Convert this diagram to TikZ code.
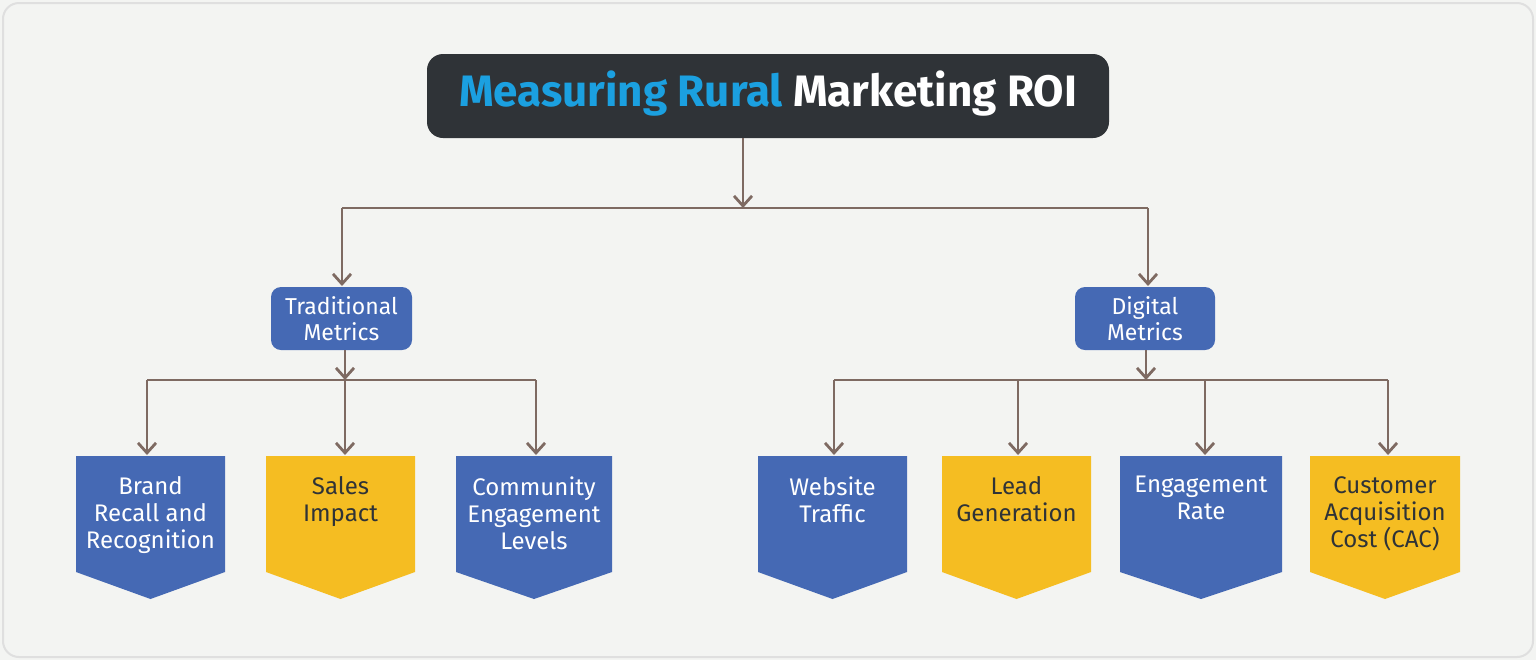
\documentclass[tikz,border=0pt]{standalone}
\usepackage{fontspec}
\setmainfont{Fira Sans}
\usetikzlibrary{arrows.meta}
\definecolor{bg}{HTML}{F3F4F2}
\definecolor{dark}{HTML}{2F3337}
\definecolor{tblue}{HTML}{1BA0E0}
\definecolor{mblue}{HTML}{4569B4}
\definecolor{myel}{HTML}{F5BD22}
\definecolor{conn}{HTML}{7E6A62}
\tikzset{
  conn/.style={draw=conn,line width=1.4pt},
  arr/.style={conn,-{Straight Barb[length=5pt,width=9pt]}},
  cat/.style={fill=mblue,rounded corners=5pt,text=white,align=center,font=\fontsize{11.5}{13}\selectfont,inner sep=0pt},
  lbl/.style={align=center,font=\fontsize{12}{13.5}\selectfont,anchor=north,inner sep=0pt},
}
\begin{document}
\begin{tikzpicture}[x=0.5pt,y=-0.5pt]
\useasboundingbox (0,0) rectangle (1536,660);
\fill[bg] (0,0) rectangle (1536,660);
\draw[gray!25,line width=1pt,rounded corners=8pt] (3,3) rectangle (1533,657);
% title
\fill[dark,rounded corners=8pt] (427,54) rectangle (1109,138);
\node[font=\fontsize{22}{24}\selectfont\bfseries,inner sep=0pt] (title) at (768,94) {\textcolor{tblue}{Measuring Rural} \textcolor{white}{Marketing ROI}};
\coordinate (tb) at (743,138);
\coordinate (split) at (743,208);
% categories
\node[cat,minimum width=70.5pt,minimum height=31.5pt] (trad) at (341.5,318.5) {Traditional\\Metrics};
\node[cat,minimum width=70pt,minimum height=31.5pt] (dig) at (1145,318.5) {Digital\\Metrics};
\coordinate (tl) at (342,208); \coordinate (dl) at (1148,208);
\draw[arr] (tb) -- (split);
\draw[conn] (tl) -- (dl);
\draw[arr] (tl) -- (342,286);
\draw[arr] (dl) -- (1148,286);
% leaves
\newcommand{\leaf}[6]{% name, x1, x2, color, textcolor, text
  \fill[#4] (#2,456) -- (#3,456) -- (#3,572) -- ({(#2+#3)/2},599) -- (#2,572) -- cycle;
  \coordinate (#1) at ({(#2+#3)/2},456);
  \node[lbl,text=#5] (#1t) at ({(#2+#3)/2},476) {#6};
}
\leaf{l1}{76}{225}{mblue}{white}{Brand\\Recall and\\Recognition}
\leaf{l2}{266}{415}{myel}{dark}{Sales\\Impact}
\leaf{l3}{456}{612}{mblue}{white}{Community\\Engagement\\Levels}
\leaf{l4}{758}{907}{mblue}{white}{Website\\Traffic}
\leaf{l5}{942}{1091}{myel}{dark}{Lead\\Generation}
\leaf{l6}{1120}{1282}{mblue}{white}{Engagement\\Rate}
\leaf{l7}{1310}{1460}{myel}{dark}{Customer\\Acquisition\\Cost (CAC)}
% traditional branch
\coordinate (tj) at (345,380);
\draw[arr] (trad.south -| tj) -- (tj);
\draw[conn] (147,380) -- (536,380);
\draw[arr] (147,380) -- (147,455);
\draw[arr] (tj) -- (345,455);
\draw[arr] (536,380) -- (536,455);
% digital branch
\coordinate (dj) at (1146,380);
\draw[arr] (dig.south -| dj) -- (dj);
\draw[conn] (834,380) -- (1388,380);
\draw[arr] (834,380) -- (834,455);
\draw[arr] (1018,380) -- (1018,455);
\draw[arr] (1205,380) -- (1205,455);
\draw[arr] (1388,380) -- (1388,455);
\end{tikzpicture}
\end{document}
